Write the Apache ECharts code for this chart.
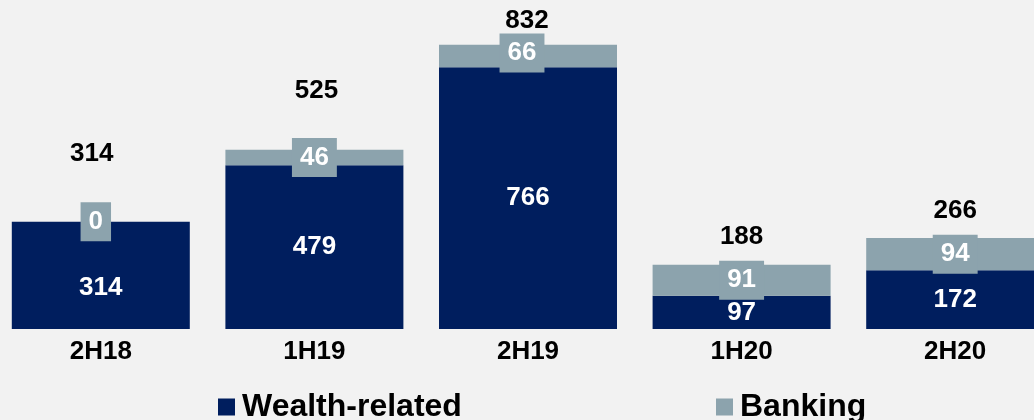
<!DOCTYPE html>
<html>
<head>
<meta charset="utf-8">
<script src="https://cdn.jsdelivr.net/npm/echarts@6/dist/echarts.min.js"></script>
<style>
html,body{margin:0;padding:0;background:#f2f2f2;overflow:hidden;width:1034px;height:420px;}
#chart{width:1068px;height:420px;margin-left:-6px;}
</style>
</head>
<body>
<div id="chart"></div>
<script>
const categories = ['2H18', '1H19', '2H19', '1H20', '2H20'];
const wealthRelated = [314, 479, 766, 97, 172];
const banking = [0, 46, 66, 91, 94];
const totals = [314, 525, 832, 188, 266];

// label nudges (style only)
const totalLabelOffsets = [[-9, -68], [2, -59], [-1, -24], [0, -28], [0, -27]];
const bankingLabelOffsets = [[-5, 0], [0, 0], [-6, -3], [0, 0], [0, 0]];
const wealthLabelOffsets = [[0, 12], [0, 0], [0, 0], [0, 0], [0, 0]];

const NAVY = '#001e5e';
const GREY = '#8ca3ad';
const FONT = '"Liberation Sans", Arial, sans-serif';

const chart = echarts.init(document.getElementById('chart'), null, {renderer: 'canvas'});
chart.setOption({
  backgroundColor: '#f2f2f2',
  animation: false,
  textStyle: {fontFamily: FONT},
  grid: {left: 0, right: 0, top: 21.5, bottom: 91, containLabel: false},
  legend: [
    {
      data: ['Wealth-related'], left: 224, top: 391, icon: 'rect', padding: 0,
      itemWidth: 17, itemHeight: 17,
      textStyle: {fontFamily: FONT, fontWeight: 'bold', fontSize: 32, color: '#000', padding: [0, 0, 0, 2]}
    },
    {
      data: ['Banking'], left: 722, top: 391, icon: 'rect', padding: 0,
      itemWidth: 17, itemHeight: 17,
      textStyle: {fontFamily: FONT, fontWeight: 'bold', fontSize: 32, color: '#000', padding: [0, 0, 0, 2]}
    }
  ],
  xAxis: {
    type: 'category',
    data: categories,
    axisLine: {show: false},
    axisTick: {show: false},
    axisLabel: {margin: 10, fontFamily: FONT, fontWeight: 'bold', fontSize: 26, color: '#000'}
  },
  yAxis: {
    type: 'value', min: 0, max: 900, show: false,
    splitLine: {show: false}
  },
  series: [
    {
      name: 'Wealth-related', type: 'bar', stack: 'total', barWidth: 178,
      itemStyle: {color: NAVY},
      data: wealthRelated.map((v, i) => ({value: v, label: {offset: wealthLabelOffsets[i]}})),
      label: {
        show: true, position: 'inside', color: '#fff',
        fontFamily: FONT, fontWeight: 'bold', fontSize: 26
      }
    },
    {
      name: 'Banking', type: 'bar', stack: 'total', barWidth: 178,
      itemStyle: {color: GREY},
      data: banking.map((v, i) => ({value: v, label: {offset: bankingLabelOffsets[i]}})),
      label: {
        show: true, position: 'inside', color: '#fff',
        fontFamily: FONT, fontWeight: 'bold', fontSize: 26,
        backgroundColor: GREY, padding: [6, 8], lineHeight: 27
      }
    },
    {
      name: 'Total', type: 'scatter', symbolSize: 0, silent: true,
      itemStyle: {opacity: 1},
      data: totals.map((v, i) => ({value: v, label: {offset: totalLabelOffsets[i]}})),
      label: {
        show: true, position: 'inside', color: '#000',
        fontFamily: FONT, fontWeight: 'bold', fontSize: 26, opacity: 1
      }
    }
  ]
});
</script>
</body>
</html>
